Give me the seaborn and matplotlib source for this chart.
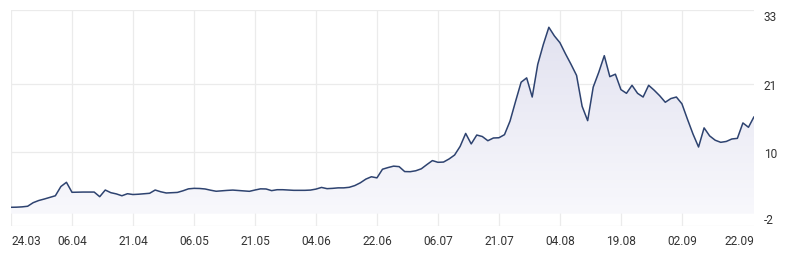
import numpy as np
import pandas as pd
import matplotlib
matplotlib.use("Agg")
import matplotlib.pyplot as plt
import seaborn as sns

# ---- data ----
values = [
    1.03, 1.05, 1.10, 1.20, 1.78, 2.13, 2.37, 2.63, 2.90, 4.40,
    5.08, 3.46, 3.48, 3.50, 3.50, 3.50, 2.75, 3.83, 3.40, 3.20,
    2.90, 3.23, 3.10, 3.15, 3.22, 3.30, 3.83, 3.55, 3.35, 3.40,
    3.44, 3.70, 4.02, 4.10, 4.08, 4.00, 3.80, 3.63, 3.70, 3.77,
    3.82, 3.75, 3.68, 3.62, 3.83, 4.02, 4.00, 3.73, 3.88, 3.88,
    3.83, 3.78, 3.78, 3.78, 3.82, 3.98, 4.25, 4.05, 4.10, 4.18,
    4.18, 4.27, 4.55, 5.00, 5.60, 5.98, 5.80, 7.20, 7.47, 7.70,
    7.62, 6.82, 6.80, 6.95, 7.27, 7.95, 8.60, 8.32, 8.36, 8.86,
    9.50, 10.90, 13.00, 11.30, 12.74, 12.50, 11.82, 12.26, 12.30, 12.80,
    15.00, 18.20, 21.30, 22.00, 18.90, 24.20, 27.40, 30.20, 28.80, 27.70,
    25.90, 24.20, 22.40, 17.40, 15.07, 20.50, 22.90, 25.60, 22.20, 22.60,
    20.10, 19.50, 20.80, 19.50, 18.90, 20.80, 20.00, 19.10, 18.05, 18.65,
    18.90, 17.80, 15.30, 12.90, 10.80, 13.90, 12.60, 11.90, 11.56, 11.70,
    12.10, 12.20, 14.70, 14.00, 15.70,
]
x_labels = ["24.03", "06.04", "21.04", "06.05", "21.05", "04.06", "22.06",
            "06.07", "21.07", "04.08", "19.08", "02.09", "22.09"]
x_label_index = [0, 11, 22, 33, 44, 55, 66, 77, 88, 99, 110, 121, 134]
y_ticks = [-2, 10, 21, 33]

df = pd.DataFrame({"i": np.arange(len(values)), "v": values})

sns.set_theme(style="white")
plt.rcParams["font.family"] = ["Roboto", "DejaVu Sans"]

fig = plt.figure(figsize=(7.85, 2.55), dpi=100)
ax = fig.add_axes([11 / 785, 28 / 255, 743 / 785, 216 / 255])

line_color = "#2e4370"

# gradient fill under the curve (down to 0)
poly = ax.fill_between(df["i"], df["v"], 0, color="none", lw=0, zorder=1)
grad = np.linspace(1, 0, 256).reshape(-1, 1)
cmap = matplotlib.colors.LinearSegmentedColormap.from_list(
    "g", ["#f8f8fc", "#e2e2f0"])
img = ax.imshow(grad, aspect="auto", cmap=cmap, origin="upper",
                extent=[0, len(values) - 1, 0, max(values)], zorder=1)
img.set_clip_path(poly.get_paths()[0], transform=ax.transData)

sns.lineplot(data=df, x="i", y="v", ax=ax, color=line_color,
             linewidth=1.1, zorder=3)

ax.set_xlim(0, len(values) - 1)
ax.set_ylim(-2, 33)
ax.set_xlabel("")
ax.set_ylabel("")

for s in ax.spines.values():
    s.set_visible(False)

ax.set_xticks(x_label_index)
ax.set_xticklabels(x_labels)
ax.yaxis.tick_right()
ax.set_yticks(y_ticks)
ax.set_yticklabels([str(t) for t in y_ticks])

ax.tick_params(axis="x", length=0, pad=6, labelsize=8.6, labelcolor="#333333")
ax.tick_params(axis="y", length=0, pad=7, labelsize=8.6, labelcolor="#333333")

ax.grid(True, color="#ebebeb", linewidth=0.9, zorder=0)
ax.set_axisbelow(True)
ax.get_xgridlines()[-1].set_visible(False)

xt = ax.get_xticklabels()
xt[0].set_ha("left")
xt[-1].set_ha("right")
yt = ax.get_yticklabels()
yt[0].set_va("bottom")
yt[-1].set_va("top")

fig.savefig("out.png", dpi=100, facecolor="white")
